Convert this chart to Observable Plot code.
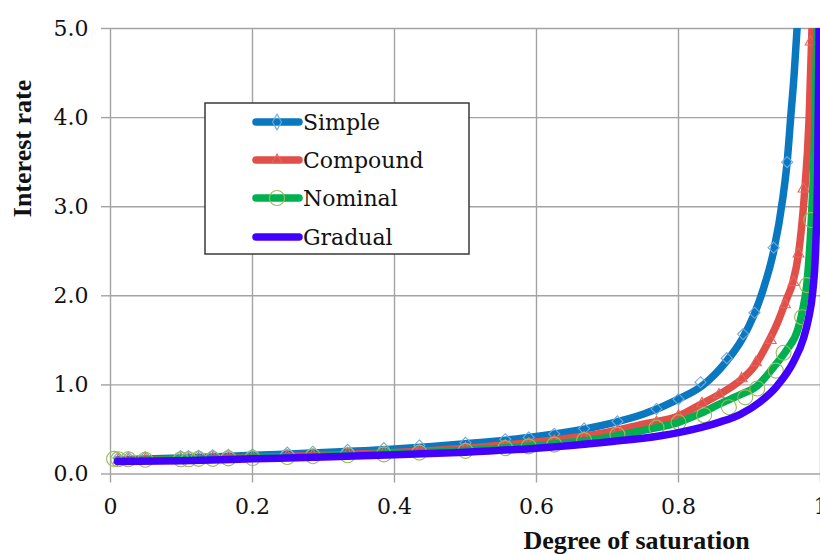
<!DOCTYPE html>
<html><head><meta charset="utf-8">
<script src="https://cdn.jsdelivr.net/npm/d3@7"></script>
<script src="https://cdn.jsdelivr.net/npm/@observablehq/plot@0.6"></script>
<style>
body{margin:0;background:#fff;overflow:hidden}
svg{display:block}
.ttl{font-family:"Liberation Serif","DejaVu Serif",serif;}
.tk text{font-family:"DejaVu Serif",serif !important;}
.lgt{font-family:"DejaVu Serif",serif !important;}
</style>
</head><body><div id="chart"></div>
<script>
// ---- data ----
const seriesNames = ["Simple", "Compound", "Nominal", "Gradual"];

const xTicks = [0, 0.2, 0.4, 0.6, 0.8, 1];
const xTickLabels = ["0", "0.2", "0.4", "0.6", "0.8", "1"];
const yTicks = [0, 1, 2, 3, 4, 5];
const yTickLabels = ["0.0", "1.0", "2.0", "3.0", "4.0", "5.0"];

// smooth curves
const simpleX = [0.01,0.1,0.2,0.3,0.4,0.5,0.6,0.7,0.75,0.8,0.835,0.866,0.89,0.906,0.92,0.934,0.947,0.953,0.958,0.963,0.967];
const simpleY = [0.16,0.18,0.21,0.24,0.28,0.34,0.42,0.56,0.67,0.84,1.0,1.25,1.52,1.78,2.09,2.5,3.1,3.5,4.0,4.5,5.0];
const compoundX = [0.01,0.1,0.2,0.3,0.4,0.5,0.6,0.7,0.75,0.8,0.831,0.859,0.887,0.906,0.925,0.939,0.953,0.961,0.969,0.977,0.984,0.988];
const compoundY = [0.15,0.165,0.185,0.21,0.24,0.29,0.36,0.47,0.56,0.65,0.78,0.9,1.05,1.2,1.46,1.69,1.98,2.15,2.47,3.1,4.0,5.0];
const nominalX = [0.01,0.1,0.2,0.3,0.4,0.5,0.6,0.7,0.75,0.8,0.831,0.859,0.887,0.911,0.934,0.953,0.968,0.975,0.981,0.987,0.991,0.995];
const nominalY = [0.15,0.16,0.18,0.2,0.23,0.265,0.32,0.41,0.49,0.58,0.68,0.79,0.89,0.99,1.2,1.4,1.62,1.85,2.15,2.85,3.6,5.0];
const gradualX = [0.01,0.1,0.2,0.3,0.4,0.5,0.6,0.7,0.775,0.8,0.831,0.859,0.887,0.915,0.939,0.962,0.976,0.983,0.989,0.993,0.996,0.998];
const gradualY = [0.14,0.15,0.17,0.19,0.215,0.245,0.29,0.36,0.43,0.465,0.52,0.585,0.67,0.81,0.99,1.26,1.52,1.74,2.04,2.5,3.4,5.0];

// markers
const simpleMarkX = [0.011,0.025,0.049,0.099,0.11,0.124,0.144,0.166,0.2,0.249,0.285,0.334,0.385,0.435,0.5,0.556,0.589,0.625,0.667,0.714,0.769,0.8,0.831,0.868,0.891,0.907,0.934,0.953];
const simpleMarkY = [0.18,0.185,0.19,0.2,0.2,0.205,0.21,0.215,0.22,0.24,0.25,0.27,0.29,0.32,0.35,0.39,0.41,0.45,0.51,0.59,0.73,0.84,1.03,1.30,1.57,1.81,2.54,3.5];
const compoundMarkX = [0.011,0.025,0.049,0.099,0.11,0.124,0.144,0.166,0.2,0.249,0.285,0.334,0.385,0.435,0.5,0.556,0.589,0.625,0.667,0.714,0.769,0.8,0.833,0.857,0.889,0.909,0.93,0.95,0.962,0.969,0.976,0.986];
const compoundMarkY = [0.155,0.16,0.165,0.17,0.17,0.175,0.18,0.18,0.19,0.2,0.21,0.23,0.24,0.26,0.29,0.32,0.34,0.37,0.41,0.48,0.58,0.65,0.79,0.89,1.07,1.25,1.5,1.9,2.15,2.47,3.2,4.85];
const nominalMarkX = [0.005,0.011,0.025,0.049,0.099,0.11,0.124,0.144,0.166,0.2,0.249,0.285,0.334,0.385,0.435,0.5,0.556,0.589,0.625,0.667,0.714,0.769,0.8,0.836,0.871,0.894,0.911,0.937,0.948,0.974,0.981,0.987];
const nominalMarkY = [0.17,0.165,0.165,0.16,0.165,0.165,0.17,0.17,0.175,0.18,0.19,0.2,0.21,0.22,0.24,0.26,0.29,0.31,0.33,0.38,0.44,0.52,0.58,0.66,0.75,0.86,0.96,1.16,1.36,1.76,2.12,2.85];

// ---- styles ----
const lineColors = {Simple: "#0a78c0", Compound: "#e04f48", Nominal: "#00b050", Gradual: "#4400ff"};
const markColors = {Simple: "#6fa8dc", Compound: "#e3675f", Nominal: "#9bbb59"};
const gridColor = "#a3a3a3";

const toPts = (xs, ys) => xs.map((x, i) => ({x, y: ys[i]}));
const lines = {
  Simple: toPts(simpleX, simpleY),
  Compound: toPts(compoundX, compoundY),
  Nominal: toPts(nominalX, nominalY),
  Gradual: toPts(gradualX, gradualY)
};
const marks = {
  Simple: toPts(simpleMarkX, simpleMarkY),
  Compound: toPts(compoundMarkX, compoundMarkY),
  Nominal: toPts(nominalMarkX, nominalMarkY)
};
const symbols = {Simple: "diamond2", Compound: "triangle", Nominal: "circle"};
const radii = {Simple: 5, Compound: 4, Nominal: 7.5};

const lineMark = s => Plot.line(lines[s], {x: "x", y: "y", stroke: lineColors[s], strokeWidth: 7.5, curve: "monotone-x", strokeLinecap: "round", clip: true});
const dotMark = s => Plot.dot(marks[s], {x: "x", y: "y", symbol: symbols[s], r: radii[s], stroke: markColors[s], strokeWidth: 1.1, fill: "none"});

const chart = Plot.plot({
  width: 820,
  height: 554,
  marginLeft: 110,
  marginRight: 0,
  marginTop: 28,
  marginBottom: 80.5,
  style: {background: "#fff"},
  x: {domain: [0, 1]},
  y: {domain: [0, 5]},
  marks: [
    Plot.gridX(xTicks, {stroke: gridColor, strokeOpacity: 1, strokeWidth: 1.4}),
    Plot.gridY(yTicks, {stroke: gridColor, strokeOpacity: 1, strokeWidth: 1.4}),
    Plot.axisX({ticks: xTicks, tickFormat: d => xTickLabels[xTicks.indexOf(d)], tickSize: 9, tickPadding: 15, stroke: gridColor, strokeWidth: 1.4, fill: "#111", fontSize: 22, fontFamily: "DejaVu Serif", label: null, className: "tk"}),
    Plot.axisY({ticks: yTicks, tickFormat: d => yTickLabels[yTicks.indexOf(d)], tickSize: 9, tickPadding: 13, stroke: gridColor, strokeWidth: 1.4, fill: "#111", fontSize: 22, fontFamily: "DejaVu Serif", label: null, className: "tk"}),
    lineMark("Simple"), dotMark("Simple"),
    lineMark("Compound"), dotMark("Compound"),
    lineMark("Nominal"), dotMark("Nominal"),
    lineMark("Gradual"),
    Plot.text(["Interest rate"], {frameAnchor: "top-left", rotate: -90, dx: -88, dy: 120, textAnchor: "middle", lineAnchor: "middle", fontWeight: "bold", fontSize: 26, fill: "#111", className: "ttl"}),
    Plot.text(["Degree of saturation"], {frameAnchor: "bottom", dx: 171, dy: 74.5, textAnchor: "middle", lineAnchor: "bottom", fontWeight: "bold", fontSize: 26, fill: "#111", className: "ttl"})
  ]
});
document.getElementById("chart").appendChild(chart);

// ---- legend box ----
const svg = d3.select(chart);
const lg = svg.append("g");
lg.append("rect").attr("x", 205).attr("y", 103).attr("width", 264).attr("height", 151)
  .attr("fill", "#fff").attr("stroke", "#3a3a3a").attr("stroke-width", 1.5);
const legendY = [122, 160, 198, 237];
const d3sym = {Simple: d3.symbolDiamond, Compound: d3.symbolTriangle, Nominal: d3.symbolCircle};
const d3size = {Simple: 70, Compound: 45, Nominal: 180};
seriesNames.forEach((s, i) => {
  const y = legendY[i];
  lg.append("line").attr("x1", 256).attr("x2", 299).attr("y1", y).attr("y2", y)
    .attr("stroke", lineColors[s]).attr("stroke-width", 7.5).attr("stroke-linecap", "round");
  if (d3sym[s]) {
    lg.append("path").attr("d", d3.symbol(d3sym[s], d3size[s])())
      .attr("transform", `translate(277,${y})`)
      .attr("fill", "none").attr("stroke", markColors[s]).attr("stroke-width", 1.1);
  }
  lg.append("text").attr("class", "lgt").attr("x", 303).attr("y", y).attr("dy", "0.38em")
    .style("font-size", "22px").style("text-anchor", "start")
    .attr("fill", "#111").text(s);
});
</script></body></html>
